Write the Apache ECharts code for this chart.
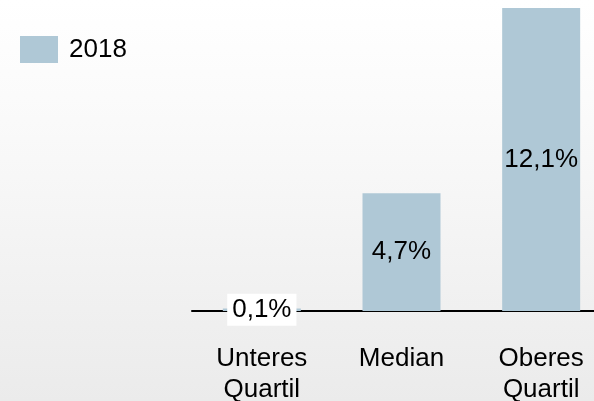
<!DOCTYPE html>
<html>
<head>
<meta charset="utf-8">
<script src="https://cdn.jsdelivr.net/npm/echarts@6/dist/echarts.min.js"></script>
<style>
  html, body { margin: 0; padding: 0; }
  #chart {
    width: 594px;
    height: 401px;
    background: linear-gradient(to bottom, #ffffff 0%, #fafafa 30%, #ebebeb 100%);
  }
</style>
</head>
<body>
<div id="chart"></div>
<script>
const categories = ['Unteres\nQuartil', 'Median', 'Oberes\nQuartil'];
const values2018 = [0.1, 4.7, 12.1];
const seriesName = '2018';

const chart = echarts.init(document.getElementById('chart'), null, { renderer: 'canvas' });

const font = 'Liberation Sans, Arial, sans-serif';
const fmt = (v) => v.toFixed(1).replace('.', ',') + '%';

const option = {
  backgroundColor: 'transparent',
  textStyle: { fontFamily: font },
  legend: {
    data: [seriesName],
    left: 20,
    top: 36,
    padding: 0,
    itemWidth: 38,
    itemHeight: 27,
    itemGap: 10,
    icon: 'rect',
    textStyle: { fontSize: 26, color: '#000', fontFamily: font, padding: [4, 0, 0, 6] },
  },
  grid: {
    left: 192,
    top: 8,
    width: 419,
    bottom: 90,
    containLabel: false,
    outerBoundsMode: 'none',
  },
  xAxis: {
    type: 'category',
    data: categories,
    axisLine: { lineStyle: { color: '#000', width: 2 } },
    axisTick: { show: false },
    axisLabel: {
      fontSize: 26,
      color: '#000',
      lineHeight: 31,
      margin: 32,
      interval: 0,
      fontFamily: font,
    },
  },
  yAxis: {
    type: 'value',
    min: 0,
    max: 12.1,
    show: false,
    splitLine: { show: false },
  },
  series: [{
    name: seriesName,
    type: 'bar',
    data: values2018.map((v, i) => ({
      value: v,
      label: i === 0 ? { backgroundColor: '#fff', padding: [3, 5, 3, 5] } : {},
    })),
    barWidth: 78,
    itemStyle: { color: '#afc8d6' },
    label: {
      show: true,
      position: 'inside',
      fontSize: 26,
      color: '#000',
      fontFamily: font,
      formatter: (p) => fmt(p.value),
    },
    z: 3,
  }],
};

chart.setOption(option);
</script>
</body>
</html>
